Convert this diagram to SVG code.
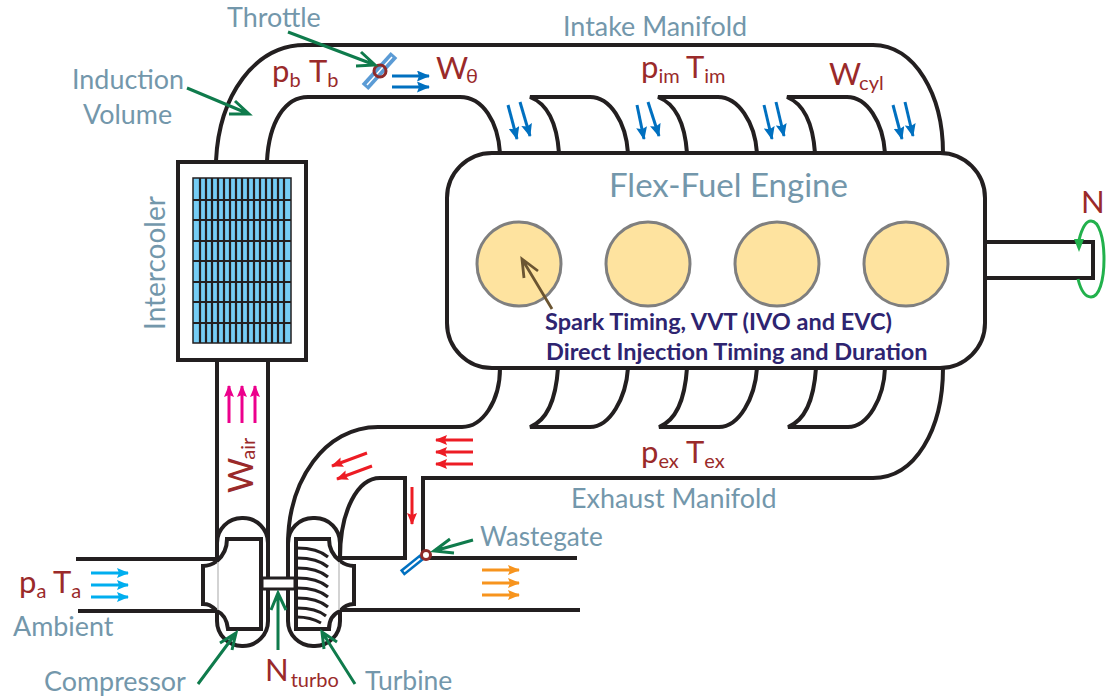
<svg xmlns="http://www.w3.org/2000/svg" width="1106" height="699" viewBox="0 0 1106 699">
<defs>
<style>
.k{fill:none;stroke:#231f20;stroke-width:4}
.lb{font-family:"Lato","Liberation Sans",sans-serif;fill:#7397ab;font-size:26.900px}
.r{font-family:"Lato","Liberation Sans",sans-serif;fill:#9a2a2a;font-size:31px}
.rs{font-size:20px}
.d{font-family:"Lato","Liberation Sans",sans-serif;fill:#2e2470;font-size:23.500px;font-weight:700}
.g{fill:none;stroke:#0f7b4c;stroke-width:3}
.f{fill:none;stroke-width:3}
</style>
<marker id="mb" viewBox="0 0 13 11" refX="12" refY="5.500" markerWidth="13" markerHeight="11" markerUnits="userSpaceOnUse" orient="auto"><path d="M0 0L13 5.500L0 11L2 5.500Z" fill="#0070c0"/></marker>
<marker id="mc" viewBox="0 0 12 10" refX="11" refY="5" markerWidth="12" markerHeight="10" markerUnits="userSpaceOnUse" orient="auto"><path d="M0 0L12 5L0 10L2 5Z" fill="#00aeef"/></marker>
<marker id="mr" viewBox="0 0 12 10" refX="11" refY="5" markerWidth="12" markerHeight="10" markerUnits="userSpaceOnUse" orient="auto"><path d="M0 0L12 5L0 10L2 5Z" fill="#ed1c24"/></marker>
<marker id="mo" viewBox="0 0 12 10" refX="11" refY="5" markerWidth="12" markerHeight="10" markerUnits="userSpaceOnUse" orient="auto"><path d="M0 0L12 5L0 10L2 5Z" fill="#f7941d"/></marker>
<marker id="mp" viewBox="0 0 12 10" refX="11" refY="5" markerWidth="12" markerHeight="10" markerUnits="userSpaceOnUse" orient="auto"><path d="M0 0L12 5L0 10L2 5Z" fill="#ec008c"/></marker>
</defs>
<rect width="1106" height="699" fill="#fff"/>
<g id="engine">
<rect x="447" y="153" width="538" height="215" rx="45" ry="45" fill="#fff" stroke="#231f20" stroke-width="4"/>
<g fill="#fee39f" stroke="#7f7f7f" stroke-width="3"><circle cx="519" cy="264" r="42"/><circle cx="648" cy="264" r="42"/><circle cx="777" cy="264" r="42"/><circle cx="906" cy="264" r="42"/></g>
<path d="M552 309L522 259M538 271L522 259L524 278" fill="none" stroke="#6b5532" stroke-width="2.800"/>
<text x="609" y="197" class="lb" style="font-size:33px">Flex-Fuel Engine</text>
<text x="545" y="330" class="d">Spark Timing, VVT (IVO and EVC)</text>
<text x="546" y="360" class="d">Direct Injection Timing and Duration</text>
</g>
<g id="output-shaft">
<path class="k" d="M985 242H1093V278H985"/>
<path d="M1079 240C1082 228 1086 221 1091 221C1099 221 1104 238 1104 259C1104 281 1099 297 1091 297C1086 297 1081 291 1078 279" fill="none" stroke="#22b14c" stroke-width="3"/>
<path d="M1074 239H1084L1079 252Z" fill="#22b14c"/>
<text x="1081" y="213" class="r">N</text>
</g>
<g id="intercooler">
<rect x="178" y="162" width="128" height="198" fill="#fff" stroke="#231f20" stroke-width="4"/>
<rect x="193" y="178" width="98" height="165" fill="#76cdf5" stroke="#231f20" stroke-width="1.500"/>
<path fill="none" stroke="#231f20" stroke-width="2.200" d="M200 178V343M206 178V343M212 178V343M218 178V343M224 178V343M230 178V343M236 178V343M242 178V343M248 178V343M254 178V343M260 178V343M266 178V343M272 178V343M278 178V343M284 178V343M193 200H291M193 220H291M193 241H291M193 261H291M193 282H291M193 302H291M193 323H291"/>
<text transform="translate(165 330) rotate(-90)" class="lb" style="font-size:28px">Intercooler</text>
</g>
<g id="compressor">
<rect x="217" y="518" width="51" height="128" rx="25" ry="25" fill="#fff" stroke="#231f20" stroke-width="4"/>
<path d="M227 539H261V629H228C227 620 224 614 217 611C211 605 208 604 203 604V566C208 566 213 564 217 561C224 555 227 548 227 539Z" fill="#fff" stroke="#231f20" stroke-width="4"/>
<path d="M218 562V610" stroke="#c4c4c4" stroke-width="1.500" fill="none"/>
</g>
<g id="turbine">
<rect x="288" y="518" width="52" height="128" rx="25" ry="25" fill="#fff" stroke="#231f20" stroke-width="4"/>
<path d="M296 539H329C329 548 332 555 340 561C344 564 349 566 354 566V604C349 604 344 606 340 611C333 614 329 620 329 629H296Z" fill="#fff" stroke="#231f20" stroke-width="4"/>
<path d="M339 562V610" stroke="#c4c4c4" stroke-width="1.500" fill="none"/>
<path fill="none" stroke="#231f20" stroke-width="3" d="M297 548C310 548 321 551 328 557M297 558C310 558 321 561 328 567M297 568C310 568 321 571 328 577M297 578C310 578 321 581 328 587M297 588C310 588 321 591 328 597M297 598C310 598 321 601 328 607M297 608C310 608 320 611 326 616M297 617C306 617 314 619 321 623"/>
</g>
<g id="connectors">
<path class="k" d="M216 161C219 95 255 45 305 45H873C915 45 943 95 943 153"/>
<path class="k" d="M267 161C269 122 285 97 308 97H460C483 97 498 122 500 153"/>
<path class="k" d="M559 153C557 125 548 104 530 97H590C610 97 626 122 628 153"/>
<path class="k" d="M687 153C685 125 676 104 658 97H718C738 97 755 122 757 153"/>
<path class="k" d="M815 153C813 125 804 104 787 97H847C867 97 883 122 885 153"/>
<path class="k" d="M500 368C500 402 482 427 462 427H378C325 427 288 480 288 545"/>
<path class="k" d="M558 368C556 398 548 420 530 427H590C610 427 626 398 628 368"/>
<path class="k" d="M687 368C685 398 677 420 659 427H719C739 427 755 398 757 368"/>
<path class="k" d="M816 368C814 398 806 420 788 427H848C868 427 884 398 885 368"/>
<path class="k" d="M943 368C943 430 915 478 873 478H423V558H577"/>
<path class="k" d="M340 558C340 510 358 478 380 478H405V558H340"/>
<path class="k" d="M340 610H580"/>
<path class="k" d="M217 360V545M268 360V545"/>
<path class="k" d="M76 559H217M78 611H217"/>
</g>
<g id="shaft">
<rect x="262" y="578" width="33" height="11" fill="#fff" stroke="#231f20" stroke-width="3"/>
</g>
<g id="throttle">
<path d="M365 87L394 55" stroke="#5b9bd5" stroke-width="9" fill="none"/>
<path d="M367 85L392 57" stroke="#fff" stroke-width="1.500" fill="none"/>
<circle cx="380" cy="71" r="6" fill="none" stroke="#8e2a2a" stroke-width="3"/>
</g>
<g id="wastegate">
<path d="M402 573L422 557" stroke="#0070c0" stroke-width="7" fill="none"/>
<path d="M404 571.500L420 558.500" stroke="#fff" stroke-width="2" fill="none"/>
<circle cx="426" cy="555" r="4.500" fill="#fff" stroke="#8e2a2a" stroke-width="3"/>
</g>
<g id="flows">
<g class="f" stroke="#0070c0">
<path d="M392 76H429" marker-end="url(#mb)"/><path d="M392 87H429" marker-end="url(#mb)"/>
<path d="M508 105L517 139" marker-end="url(#mb)"/><path d="M520 102L530 136" marker-end="url(#mb)"/>
<path d="M637 105L644 139" marker-end="url(#mb)"/><path d="M648 102L659 136" marker-end="url(#mb)"/>
<path d="M764 105L772 139" marker-end="url(#mb)"/><path d="M776 102L784 136" marker-end="url(#mb)"/>
<path d="M893 105L902 139" marker-end="url(#mb)"/><path d="M905 102L913 136" marker-end="url(#mb)"/>
</g>
<g class="f" stroke="#00aeef"><path d="M91 573H128" marker-end="url(#mc)"/><path d="M91 585H128" marker-end="url(#mc)"/><path d="M91 597H128" marker-end="url(#mc)"/></g>
<g class="f" stroke="#f7941d"><path d="M482 570H519" marker-end="url(#mo)"/><path d="M482 583H519" marker-end="url(#mo)"/><path d="M482 595H519" marker-end="url(#mo)"/></g>
<g class="f" stroke="#ed1c24"><path d="M473 440H436" marker-end="url(#mr)"/><path d="M473 452H436" marker-end="url(#mr)"/><path d="M473 464H436" marker-end="url(#mr)"/><path d="M367 453L332 466" marker-end="url(#mr)"/><path d="M372 466L337 479" marker-end="url(#mr)"/><path d="M412 487V524" marker-end="url(#mr)"/></g>
<g class="f" stroke="#ec008c"><path d="M229 423V386" marker-end="url(#mp)"/><path d="M242 423V386" marker-end="url(#mp)"/><path d="M255 423V386" marker-end="url(#mp)"/></g>
</g>
<g id="callouts">
<path class="g" d="M288 32L375 65M361 52L375 65L356 66"/>
<path class="g" d="M187 88L249 114M235 101L249 114L229 114"/>
<path class="g" d="M473 540L434 551M450 539L434 551L454 553"/>
<path class="g" d="M198 684L236 633M220 643L236 633L232 650"/>
<path class="g" d="M278 650V593M271 610L278 593L286 610"/>
<path class="g" d="M355 684L322 632M337 642L322 632L324 649"/>
</g>
<g id="labels">
<text x="227" y="27" class="lb">Throttle</text>
<text x="563" y="36" class="lb">Intake Manifold</text>
<text x="72" y="89" class="lb">Induction</text>
<text x="83" y="124" class="lb">Volume</text>
<text x="13" y="636" class="lb">Ambient</text>
<text x="44" y="691" class="lb">Compressor</text>
<text x="365" y="690" class="lb" style="font-size:26.500px">Turbine</text>
<text x="480" y="546" class="lb" style="font-size:26.200px">Wastegate</text>
<text x="571" y="508" class="lb">Exhaust Manifold</text>
<text x="272" y="82" class="r">p<tspan class="rs" dy="5">b</tspan><tspan dy="-5" x="309">T</tspan><tspan class="rs" dy="5">b</tspan></text>
<text x="436" y="79" class="r">W<tspan class="rs" dy="4" dx="-2">θ</tspan></text>
<text x="641" y="78" class="r">p<tspan class="rs" dy="5">im</tspan><tspan dy="-5" x="686">T</tspan><tspan class="rs" dy="5">im</tspan></text>
<text x="829" y="85" class="r">W<tspan class="rs" dy="5" dx="-2">cyl</tspan></text>
<text x="641" y="463" class="r">p<tspan class="rs" dy="5">ex</tspan><tspan dy="-5" x="686">T</tspan><tspan class="rs" dy="5">ex</tspan></text>
<text x="19" y="593" class="r">p<tspan class="rs" dy="5">a</tspan><tspan dy="-5" x="53">T</tspan><tspan class="rs" dy="5">a</tspan></text>
<text x="265" y="681" class="r">N<tspan class="rs" dx="2" dy="6">turbo</tspan></text>
<text transform="translate(253 493) rotate(-90)" class="r" style="font-size:34px">W<tspan class="rs" dy="2" dx="-2">air</tspan></text>
</g>
</svg>
